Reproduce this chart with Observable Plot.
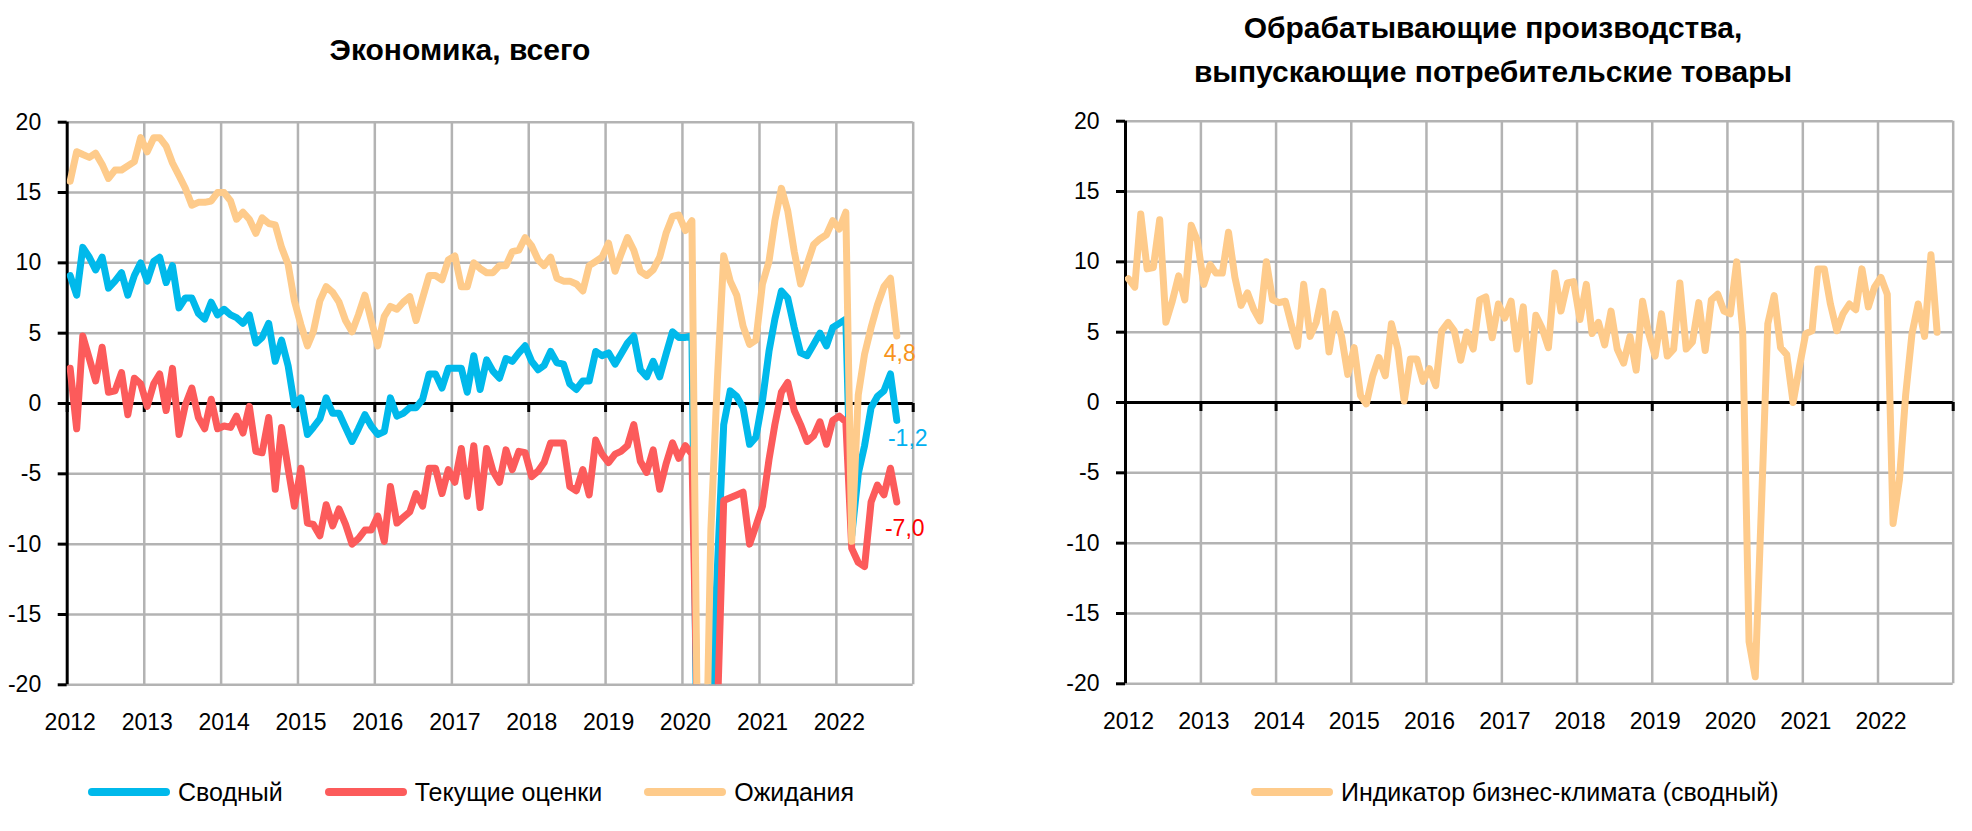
<!DOCTYPE html>
<html><head><meta charset="utf-8">
<script src="https://cdn.jsdelivr.net/npm/d3@7"></script>
<script src="https://cdn.jsdelivr.net/npm/@observablehq/plot@0.6"></script>
<style>
body{margin:0;background:#fff;width:1972px;height:831px;position:relative;overflow:hidden;font-family:"Liberation Sans",Arial,sans-serif;color:#000;}
.title{position:absolute;font-weight:bold;font-size:30px;text-align:center;white-space:nowrap;transform:translateX(-50%);}
.chart{position:absolute;top:0;}
.legend{position:absolute;display:flex;align-items:center;font-size:25px;line-height:30px;white-space:nowrap;gap:42px;}
.item{display:flex;align-items:center;}
.item svg{display:block;margin-right:8px;}
</style></head><body>
<div id="t1" class="title" style="left:460px;top:32px;line-height:36px"></div>
<div id="t2" class="title" style="left:1493px;top:6px;line-height:44px"></div>
<div id="c1" class="chart" style="left:0px"></div>
<div id="c2" class="chart" style="left:1000px"></div>
<div id="l1" class="legend" style="left:88px;top:777px"></div>
<div id="l2" class="legend" style="left:1251px;top:777px"></div>
<script>
// ---------- DATA ----------
const titleLeft = "Экономика, всего";
const titleRight = ["Обрабатывающие производства,", "выпускающие потребительские товары"];
const yearLabels = ["2012","2013","2014","2015","2016","2017","2018","2019","2020","2021","2022"];
const yTickValues = [-20,-15,-10,-5,0,5,10,15,20];
const seriesNames = ["Сводный","Текущие оценки","Ожидания"];
const rightSeriesName = "Индикатор бизнес-климата (сводный)";
const colors = ["#00b9eb","#fc5b5b","#fecb8b"];
const labelColors = ["#00b0f0","#ff0000","#f7941d"];

const svodny = [9.1, 7.7, 11.1, 10.4, 9.5, 10.4, 8.2, 8.7, 9.3, 7.7, 9.1, 10.0,
 8.7, 10.1, 10.4, 8.6, 9.8, 6.8, 7.5, 7.5, 6.4, 6.0, 7.2, 6.3,
 6.7, 6.3, 6.1, 5.7, 6.3, 4.3, 4.7, 5.7, 3.0, 4.5, 2.7, -0.1,
 0.4, -2.2, -1.7, -1.1, 0.4, -0.7, -0.7, -1.7, -2.7, -1.8, -0.8, -1.6,
 -2.2, -2.0, 0.4, -0.9, -0.7, -0.3, -0.3, 0.3, 2.1, 2.1, 1.1, 2.5,
 2.5, 2.5, 0.8, 3.4, 1.0, 3.1, 2.3, 1.8, 3.2, 3.0, 3.6, 4.1,
 3.0, 2.4, 2.7, 3.7, 2.9, 2.8, 1.4, 1.0, 1.6, 1.6, 3.7, 3.4,
 3.6, 2.8, 3.5, 4.3, 4.8, 2.4, 1.9, 3.0, 1.9, 3.5, 5.1, 4.7,
 4.7, 4.8, -32, -38, -22, -11.7, -1.5, 0.9, 0.5, -0.3, -2.9, -2.4,
 0.2, 3.7, 6.0, 8.0, 7.5, 5.4, 3.6, 3.4, 4.2, 5.0, 4.1, 5.4,
 5.7, 6.0, -9.4, -5.0, -3.0, -0.3, 0.5, 0.9, 2.1, -1.2];

const tekushie = [2.5, -1.8, 4.8, 3.2, 1.6, 4.0, 0.8, 0.9, 2.2, -0.8, 1.8, 1.4,
 -0.2, 1.4, 2.1, -0.5, 2.5, -2.2, -0.1, 1.1, -1.0, -1.8, 0.3, -1.8,
 -1.6, -1.7, -0.9, -2.1, -0.2, -3.4, -3.5, -1.0, -6.1, -1.7, -4.6, -7.3,
 -4.6, -8.5, -8.6, -9.4, -7.2, -8.7, -7.5, -8.6, -10.0, -9.6, -9.0, -9.0,
 -8.0, -9.8, -5.9, -8.5, -8.1, -7.7, -6.4, -7.3, -4.6, -4.6, -6.4, -4.7,
 -5.6, -3.2, -6.6, -3.0, -7.4, -3.2, -4.8, -5.6, -3.3, -4.7, -3.4, -3.5,
 -5.2, -4.8, -4.2, -2.8, -2.8, -2.8, -5.9, -6.2, -4.7, -6.5, -2.6, -3.6,
 -4.2, -3.6, -3.4, -3.0, -1.5, -4.1, -4.9, -3.3, -6.1, -4.3, -2.8, -3.9,
 -3.0, -3.6, -25, -38, -30, -22, -6.9, -6.7, -6.5, -6.3, -10.0, -8.7,
 -7.3, -4.0, -1.5, 0.8, 1.5, -0.5, -1.5, -2.7, -2.3, -1.3, -2.9, -1.2,
 -0.9, -1.3, -10.3, -11.3, -11.6, -7.0, -5.8, -6.5, -4.6, -7.0];

const ozhidaniya = [15.8, 17.9, 17.7, 17.5, 17.8, 17.0, 16.0, 16.6, 16.6, 16.9, 17.2, 18.9,
 17.9, 18.9, 18.9, 18.3, 17.1, 16.2, 15.3, 14.1, 14.3, 14.3, 14.4, 15.0,
 15.0, 14.4, 13.1, 13.6, 13.1, 12.1, 13.2, 12.8, 12.7, 11.1, 9.9, 7.3,
 5.6, 4.1, 5.1, 7.3, 8.3, 7.9, 7.2, 5.9, 5.1, 6.3, 7.7, 5.9,
 4.1, 6.2, 6.9, 6.7, 7.2, 7.6, 5.9, 7.5, 9.1, 9.1, 8.8, 10.2,
 10.5, 8.3, 8.3, 10.0, 9.6, 9.3, 9.3, 9.8, 9.8, 10.8, 10.9, 11.8,
 11.2, 10.2, 9.8, 10.4, 8.9, 8.7, 8.7, 8.5, 8.0, 9.8, 10.1, 10.4,
 11.4, 9.4, 10.6, 11.8, 10.9, 9.4, 9.1, 9.5, 10.4, 12.1, 13.3, 13.4,
 12.3, 13.0, -28, -32, -9.0, 1.7, 10.5, 8.7, 7.7, 5.5, 4.2, 4.5,
 8.5, 10.1, 13.0, 15.3, 13.7, 10.8, 8.5, 9.9, 11.3, 11.7, 12.0, 13.0,
 12.4, 13.6, -9.8, 0.6, 3.5, 5.4, 7.0, 8.3, 8.9, 4.8];

const indicator = [8.8, 8.2, 13.4, 9.5, 9.6, 13.0, 5.7, 7.2, 9.0, 7.3, 12.6, 11.5,
 8.4, 9.8, 9.2, 9.2, 12.1, 8.9, 6.9, 7.8, 6.6, 5.8, 10.0, 7.3,
 7.1, 7.2, 5.6, 4.0, 8.4, 4.7, 5.7, 7.9, 3.6, 6.3, 4.7, 2.0,
 3.9, 0.5, -0.1, 1.9, 3.2, 1.9, 5.6, 3.8, 0.1, 3.1, 3.1, 1.5,
 2.4, 1.2, 5.1, 5.7, 5.1, 3.0, 5.0, 3.8, 7.3, 7.5, 4.6, 7.0,
 6.0, 7.2, 3.8, 6.8, 1.5, 6.2, 5.3, 3.9, 9.2, 6.5, 8.5, 8.6,
 5.9, 8.4, 4.9, 5.7, 4.1, 6.5, 3.8, 2.8, 4.7, 2.3, 7.2, 4.9,
 3.3, 6.3, 3.3, 3.8, 8.5, 3.8, 4.3, 7.1, 3.7, 7.3, 7.7, 6.5,
 6.3, 10.0, 5.1, -17.0, -19.5, -7.0, 5.6, 7.6, 3.9, 3.4, 0.0, 2.5,
 4.9, 5.1, 9.5, 9.5, 7.0, 5.1, 6.3, 7.0, 6.6, 9.5, 6.8, 8.2,
 8.9, 7.7, -8.6, -5.5, 0.5, 4.9, 7.0, 4.7, 10.5, 5.0];

// ---------- HELPERS ----------
const monthDate = i => new Date(Date.UTC(2012, i, 15));
const yearDate = y => new Date(Date.UTC(+y, 0, 1));
const yearTicks = yearLabels.map(yearDate);
const xEnd = yearDate(+yearLabels[yearLabels.length - 1] + 1);
const allYearTicks = [...yearTicks, xEnd];
const fmt = v => v.toFixed(1).replace(".", ",");
const FONT = "'Liberation Sans', Arial, sans-serif";

function chart({series, width, height, margin, labels}) {
  const marks = [
    Plot.ruleY(yTickValues.filter(d => d !== 0), {stroke: "#b3b3b3", strokeWidth: 2.5}),
    Plot.ruleX(allYearTicks.slice(1), {stroke: "#b3b3b3", strokeWidth: 2.5}),
    Plot.ruleX([allYearTicks[0]], {stroke: "#000", strokeWidth: 3}),
    Plot.ruleY([0], {stroke: "#000", strokeWidth: 3}),
    Plot.ruleX(allYearTicks, {x: d => d, y1: 0, y2: 0, insetTop: 0, insetBottom: -9, stroke: "#000", strokeWidth: 3}),
    Plot.axisY({ticks: yTickValues, tickSize: 9, tickPadding: 17, strokeWidth: 3, tickFormat: d => String(d)}),
    Plot.axisX({ticks: yearTicks, tickSize: 0, tickPadding: 29, dx: 3, tickFormat: d => String(d.getUTCFullYear())})
  ];
  series.forEach(s => {
    marks.push(Plot.line(s.values, {
      x: (d, i) => monthDate(i), y: d => d,
      stroke: s.color, strokeWidth: 7, strokeLinejoin: "round", strokeLinecap: "round", clip: true
    }));
  });
  (labels || []).forEach(l => {
    const n = l.values.length - 1;
    marks.push(Plot.text([l.values[n]], {
      x: () => monthDate(n), y: d => d, text: d => fmt(d),
      fill: l.color, dx: l.dx, dy: l.dy, fontSize: 23
    }));
  });
  return Plot.plot({
    width, height,
    marginLeft: margin[0], marginRight: margin[1], marginTop: margin[2], marginBottom: margin[3],
    x: {type: "utc", domain: [allYearTicks[0], xEnd], axis: null},
    y: {domain: [-20, 20], axis: null},
    style: {fontFamily: FONT, fontSize: "23px", color: "#000", background: "transparent", overflow: "visible"},
    marks
  });
}

const leftSeries = [
  {values: svodny, color: colors[0]},
  {values: tekushie, color: colors[1]},
  {values: ozhidaniya, color: colors[2]}
];
document.getElementById("c1").appendChild(chart({
  series: leftSeries, width: 960, height: 760, margin: [66.7, 47.3, 121.7, 75.7],
  labels: [
    {values: ozhidaniya, color: labelColors[2], dx: 3, dy: 18},
    {values: svodny, color: labelColors[0], dx: 11, dy: 18},
    {values: tekushie, color: labelColors[1], dx: 8, dy: 27}
  ]
}));
document.getElementById("c2").appendChild(chart({
  series: [{values: indicator, color: colors[2]}], width: 972, height: 760, margin: [125, 19.3, 120.7, 76.7]
}));

// titles
document.getElementById("t1").textContent = titleLeft;
document.getElementById("t2").innerHTML = titleRight.join("<br>");

// legends
function legendItem(name, color) {
  const it = document.createElement("div");
  it.className = "item";
  it.innerHTML = `<svg width="82" height="12"><line x1="4" y1="6" x2="78" y2="6" stroke="${color}" stroke-width="8" stroke-linecap="round"/></svg><span>${name}</span>`;
  return it;
}
const l1 = document.getElementById("l1");
seriesNames.forEach((n, i) => l1.appendChild(legendItem(n, colors[i])));
document.getElementById("l2").appendChild(legendItem(rightSeriesName, colors[2]));
</script>
</body></html>
